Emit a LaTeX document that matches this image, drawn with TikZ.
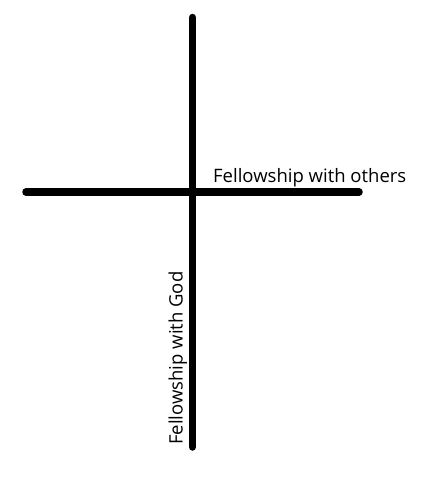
\documentclass[tikz,border=0pt]{standalone}
\usepackage{fontspec}
\setmainfont{Open Sans}
\begin{document}
\begin{tikzpicture}[x=1pt, y=-1pt, bar/.style={line width=7.5pt, line cap=round}, label/.style={inner sep=0pt, font=\fontsize{18.5}{22}\selectfont}]
\useasboundingbox (0,0) rectangle (430,484);
% Endpunkte
\coordinate (top)    at (192.5,17.5);
\coordinate (bottom) at (192.5,447);
\coordinate (left)   at (26,192);
\coordinate (right)  at (359,192);

% Balken
\draw[bar] (top) -- (bottom);
\draw[bar] (left) -- (right);

% Beschriftungen
\node[label, anchor=base west] (others) at (213,182) {Fellowship with others};
\node[label, anchor=base west, rotate=90] (god) at (182.5,445) {Fellowship with God};
\end{tikzpicture}
\end{document}
